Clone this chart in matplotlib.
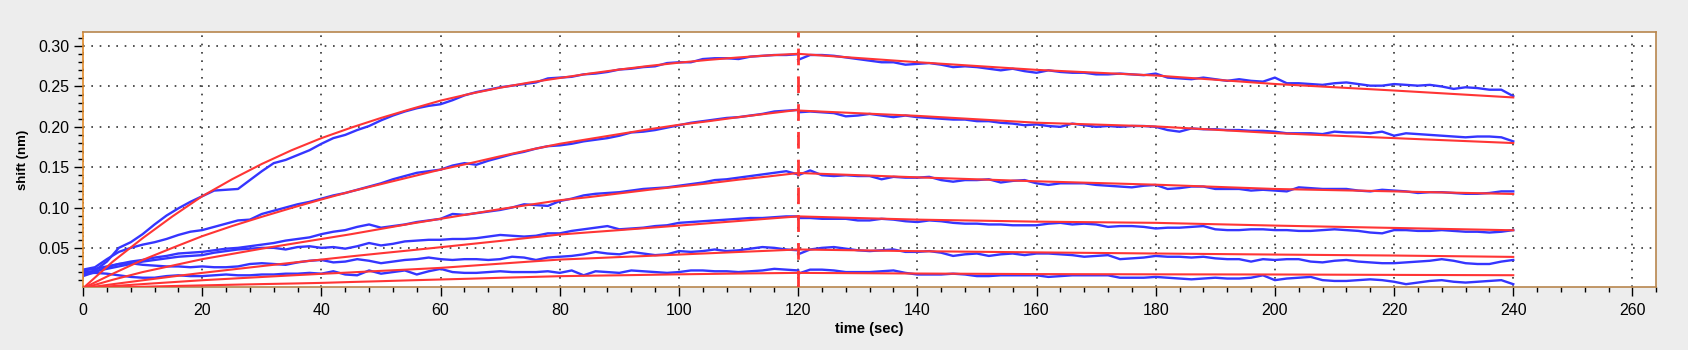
import numpy as np
import matplotlib.pyplot as plt
from matplotlib.ticker import MultipleLocator

plt.rcParams['font.family'] = ['Liberation Sans', 'DejaVu Sans']

# sampling grids (sec)
t_fit_assoc = np.arange(0, 121, 5)
t_fit_dissoc = np.arange(120, 241, 20)
t_raw_assoc = np.arange(0, 121, 2)
t_raw_dissoc = np.arange(120, 241, 2)

# fitted curves (red), association phase
fit_assoc = [
    [0, 0.033, 0.062, 0.089, 0.114, 0.135, 0.154, 0.171, 0.186, 0.199, 0.211, 0.222, 0.2325,
     0.241, 0.2485, 0.255, 0.2605, 0.266, 0.271, 0.2755, 0.2795, 0.283, 0.286, 0.2885, 0.2905],
    [0, 0.018, 0.035, 0.050, 0.0645, 0.077, 0.0885, 0.0995, 0.110, 0.120, 0.129, 0.138, 0.147,
     0.155, 0.1635, 0.1715, 0.179, 0.185, 0.191, 0.197, 0.2025, 0.207, 0.212, 0.2165, 0.221],
    [0, 0.0105, 0.020, 0.028, 0.036, 0.0425, 0.049, 0.055, 0.061, 0.067, 0.0735, 0.080, 0.086,
     0.092, 0.098, 0.1035, 0.109, 0.113, 0.1175, 0.122, 0.126, 0.130, 0.1345, 0.1385, 0.1428],
    [0, 0.005, 0.0098, 0.0145, 0.019, 0.0232, 0.0274, 0.0315, 0.0355, 0.0395, 0.0433, 0.047, 0.0508,
     0.0547, 0.0586, 0.0626, 0.0665, 0.0693, 0.072, 0.0748, 0.0776, 0.0805, 0.0833, 0.0862, 0.089],
    [0, 0.0026, 0.0051, 0.0075, 0.0099, 0.0119, 0.0139, 0.0159, 0.0178, 0.0196, 0.0215, 0.0233, 0.0252,
     0.0278, 0.0304, 0.033, 0.0355, 0.037, 0.0386, 0.0401, 0.0417, 0.0433, 0.0449, 0.0464, 0.048],
    [0, 0.0009, 0.0018, 0.0027, 0.0035, 0.0043, 0.0051, 0.0058, 0.0066, 0.0077, 0.0087, 0.0098, 0.0108,
     0.0118, 0.0129, 0.0139, 0.0149, 0.0155, 0.016, 0.0166, 0.0172, 0.0177, 0.0182, 0.0186, 0.019],
]

# fitted curves (red), dissociation phase
fit_dissoc = [
    [0.2905, 0.2801, 0.2706, 0.2636, 0.2531, 0.245, 0.2364],
    [0.2202, 0.2136, 0.2051, 0.2005, 0.1922, 0.186, 0.1799],
    [0.1428, 0.1374, 0.1325, 0.1283, 0.123, 0.120, 0.1168],
    [0.089, 0.085, 0.0825, 0.081, 0.0776, 0.0747, 0.0718],
    [0.048, 0.0459, 0.0444, 0.043, 0.0417, 0.0405, 0.0388],
    [0.019, 0.0182, 0.0175, 0.0172, 0.017, 0.0165, 0.0161],
]

# measured traces (blue), association phase
raw_assoc = [
    [0.017, 0.022, 0.033, 0.050, 0.057, 0.067, 0.079, 0.090, 0.099, 0.107,
     0.114, 0.121, 0.122, 0.123, 0.134, 0.145, 0.155, 0.159, 0.165, 0.171,
     0.179, 0.186, 0.190, 0.196, 0.201, 0.208, 0.214, 0.219, 0.223, 0.226,
     0.228, 0.233, 0.239, 0.243, 0.246, 0.249, 0.251, 0.253, 0.255, 0.260,
     0.261, 0.262, 0.265, 0.266, 0.268, 0.271, 0.272, 0.274, 0.275, 0.279,
     0.280, 0.280, 0.284, 0.285, 0.285, 0.284, 0.287, 0.288, 0.289, 0.289,
     0.290],
    [0.023, 0.026, 0.036, 0.045, 0.050, 0.054, 0.057, 0.061, 0.066, 0.070,
     0.072, 0.076, 0.080, 0.084, 0.085, 0.092, 0.096, 0.100, 0.104, 0.107,
     0.111, 0.115, 0.118, 0.122, 0.126, 0.130, 0.135, 0.139, 0.143, 0.145,
     0.147, 0.152, 0.155, 0.153, 0.158, 0.162, 0.166, 0.169, 0.173, 0.176,
     0.177, 0.179, 0.182, 0.184, 0.186, 0.189, 0.193, 0.194, 0.196, 0.199,
     0.202, 0.205, 0.207, 0.209, 0.211, 0.212, 0.214, 0.216, 0.219, 0.220,
     0.221],
    [0.015, 0.020, 0.026, 0.030, 0.033, 0.035, 0.038, 0.040, 0.043, 0.044,
     0.045, 0.047, 0.049, 0.050, 0.052, 0.054, 0.056, 0.059, 0.061, 0.063,
     0.067, 0.070, 0.072, 0.076, 0.079, 0.075, 0.077, 0.079, 0.082, 0.084,
     0.086, 0.092, 0.091, 0.093, 0.095, 0.097, 0.100, 0.104, 0.103, 0.102,
     0.108, 0.111, 0.115, 0.117, 0.118, 0.119, 0.121, 0.123, 0.124, 0.125,
     0.127, 0.129, 0.131, 0.134, 0.135, 0.137, 0.139, 0.141, 0.143, 0.145,
     0.141],
    [0.020, 0.021, 0.024, 0.027, 0.030, 0.033, 0.035, 0.037, 0.039, 0.040,
     0.041, 0.044, 0.046, 0.048, 0.049, 0.050, 0.050, 0.048, 0.051, 0.052,
     0.050, 0.051, 0.049, 0.052, 0.056, 0.053, 0.055, 0.058, 0.059, 0.060,
     0.060, 0.061, 0.061, 0.062, 0.064, 0.066, 0.065, 0.064, 0.065, 0.068,
     0.068, 0.071, 0.073, 0.075, 0.077, 0.073, 0.074, 0.075, 0.077, 0.078,
     0.081, 0.082, 0.083, 0.084, 0.085, 0.086, 0.087, 0.087, 0.088, 0.089,
     0.089],
    [0.022, 0.024, 0.027, 0.030, 0.031, 0.029, 0.028, 0.027, 0.027, 0.026,
     0.027, 0.026, 0.026, 0.027, 0.030, 0.031, 0.030, 0.029, 0.032, 0.034,
     0.035, 0.032, 0.033, 0.036, 0.034, 0.031, 0.033, 0.035, 0.036, 0.038,
     0.036, 0.035, 0.036, 0.036, 0.035, 0.036, 0.039, 0.038, 0.035, 0.038,
     0.039, 0.040, 0.042, 0.045, 0.043, 0.042, 0.045, 0.043, 0.041, 0.042,
     0.046, 0.045, 0.046, 0.048, 0.046, 0.047, 0.049, 0.051, 0.050, 0.048,
     0.047],
    [0.018, 0.019, 0.018, 0.016, 0.014, 0.013, 0.013, 0.015, 0.016, 0.015,
     0.015, 0.016, 0.017, 0.016, 0.016, 0.017, 0.017, 0.018, 0.018, 0.019,
     0.018, 0.021, 0.017, 0.016, 0.022, 0.018, 0.020, 0.022, 0.017, 0.021,
     0.024, 0.020, 0.019, 0.019, 0.020, 0.021, 0.020, 0.020, 0.020, 0.021,
     0.019, 0.022, 0.016, 0.021, 0.020, 0.019, 0.022, 0.021, 0.020, 0.019,
     0.020, 0.022, 0.022, 0.021, 0.021, 0.020, 0.021, 0.022, 0.024, 0.023,
     0.022],
]

# measured traces (blue), dissociation phase
raw_dissoc = [
    [0.283, 0.289, 0.289, 0.288, 0.286, 0.284, 0.282, 0.280, 0.280, 0.277,
     0.278, 0.279, 0.277, 0.274, 0.275, 0.274, 0.272, 0.270, 0.272, 0.269,
     0.267, 0.270, 0.268, 0.267, 0.267, 0.265, 0.265, 0.266, 0.265, 0.264,
     0.266, 0.261, 0.260, 0.259, 0.261, 0.259, 0.257, 0.259, 0.257, 0.256,
     0.261, 0.254, 0.254, 0.253, 0.252, 0.254, 0.255, 0.253, 0.251, 0.251,
     0.253, 0.252, 0.251, 0.252, 0.250, 0.247, 0.249, 0.248, 0.246, 0.246,
     0.238],
    [0.218, 0.219, 0.218, 0.217, 0.213, 0.214, 0.216, 0.214, 0.212, 0.214,
     0.212, 0.211, 0.210, 0.209, 0.209, 0.207, 0.207, 0.205, 0.204, 0.202,
     0.203, 0.201, 0.200, 0.204, 0.202, 0.200, 0.201, 0.200, 0.201, 0.201,
     0.200, 0.196, 0.194, 0.198, 0.197, 0.197, 0.196, 0.196, 0.195, 0.195,
     0.194, 0.192, 0.192, 0.192, 0.191, 0.194, 0.193, 0.193, 0.192, 0.194,
     0.189, 0.192, 0.191, 0.190, 0.189, 0.188, 0.187, 0.188, 0.188, 0.187,
     0.182],
    [0.140, 0.146, 0.140, 0.139, 0.140, 0.139, 0.139, 0.135, 0.138, 0.137,
     0.137, 0.138, 0.134, 0.132, 0.134, 0.134, 0.135, 0.131, 0.133, 0.134,
     0.130, 0.128, 0.130, 0.130, 0.130, 0.128, 0.127, 0.126, 0.125, 0.127,
     0.128, 0.123, 0.124, 0.126, 0.126, 0.123, 0.123, 0.123, 0.121, 0.122,
     0.121, 0.120, 0.125, 0.124, 0.123, 0.123, 0.123, 0.121, 0.120, 0.122,
     0.121, 0.120, 0.118, 0.119, 0.119, 0.118, 0.117, 0.117, 0.118, 0.120,
     0.120],
    [0.087, 0.087, 0.086, 0.086, 0.086, 0.084, 0.084, 0.086, 0.085, 0.083,
     0.082, 0.084, 0.083, 0.081, 0.080, 0.080, 0.079, 0.079, 0.078, 0.078,
     0.078, 0.080, 0.081, 0.079, 0.080, 0.079, 0.076, 0.077, 0.077, 0.076,
     0.074, 0.075, 0.075, 0.076, 0.077, 0.073, 0.072, 0.072, 0.073, 0.073,
     0.072, 0.072, 0.071, 0.071, 0.072, 0.073, 0.072, 0.071, 0.069, 0.068,
     0.072, 0.072, 0.071, 0.071, 0.072, 0.071, 0.070, 0.070, 0.069, 0.070,
     0.072],
    [0.042, 0.048, 0.050, 0.051, 0.049, 0.047, 0.046, 0.047, 0.048, 0.045,
     0.045, 0.046, 0.044, 0.040, 0.042, 0.043, 0.040, 0.042, 0.043, 0.041,
     0.043, 0.043, 0.042, 0.041, 0.039, 0.040, 0.041, 0.036, 0.037, 0.038,
     0.040, 0.039, 0.039, 0.038, 0.039, 0.037, 0.036, 0.036, 0.033, 0.036,
     0.035, 0.036, 0.036, 0.033, 0.032, 0.034, 0.035, 0.033, 0.032, 0.031,
     0.031, 0.032, 0.033, 0.034, 0.036, 0.034, 0.031, 0.030, 0.030, 0.033,
     0.035],
    [0.018, 0.023, 0.023, 0.022, 0.020, 0.020, 0.020, 0.021, 0.022, 0.019,
     0.017, 0.017, 0.017, 0.018, 0.017, 0.015, 0.015, 0.016, 0.016, 0.016,
     0.016, 0.014, 0.015, 0.016, 0.016, 0.016, 0.016, 0.013, 0.013, 0.013,
     0.014, 0.013, 0.012, 0.011, 0.012, 0.013, 0.012, 0.012, 0.013, 0.016,
     0.010, 0.012, 0.013, 0.014, 0.010, 0.009, 0.009, 0.010, 0.011, 0.010,
     0.008, 0.005, 0.007, 0.009, 0.010, 0.008, 0.007, 0.008, 0.009, 0.010,
     0.005],
]

switch_time = 120

fig = plt.figure(figsize=(16.88, 3.5), dpi=100)
fig.patch.set_facecolor('#ededed')
ax = fig.add_axes([0.0492, 0.18, 0.932, 0.729])
ax.set_facecolor('white')

blue = '#3535ff'
red = '#ff3535'
for a, d in zip(raw_assoc, raw_dissoc):
    ax.plot(t_raw_assoc, a, color=blue, lw=1.7, zorder=2)
    ax.plot(t_raw_dissoc, d, color=blue, lw=1.7, zorder=2)
for a, d in zip(fit_assoc, fit_dissoc):
    ax.plot(t_fit_assoc, a, color=red, lw=1.5, zorder=3)
    ax.plot(t_fit_dissoc, d, color=red, lw=1.5, zorder=3)

ax.axvline(switch_time, color=red, lw=2, ls=(0, (6, 4)), zorder=4)

ax.set_xlim(0, 264)
ax.set_ylim(0.0015, 0.3177)
ax.xaxis.set_major_locator(MultipleLocator(20))
ax.xaxis.set_minor_locator(MultipleLocator(4))
ax.yaxis.set_minor_locator(MultipleLocator(0.01))
ax.set_yticks([0.05, 0.10, 0.15, 0.20, 0.25, 0.30])
ax.set_yticklabels(['0.05', '0.10', '0.15', '0.20', '0.25', '0.30'])
ax.tick_params(which='major', length=6.5, width=1, labelsize=11.5, pad=5)
ax.tick_params(which='minor', length=3.5, width=1)
ax.tick_params(axis='y', pad=3)

ax.grid(True, which='major', color='#333333', ls=(0, (1, 4)), lw=1.2)

for s in ax.spines.values():
    s.set_color('#b8864e')
    s.set_linewidth(1.2)
ax.spines['left'].set_color('#e08a2a')

ax.set_xlabel('time (sec)', fontsize=10.5, fontweight='bold', labelpad=3)
ax.set_ylabel('shift (nm)', fontsize=9.5, fontweight='bold', labelpad=7)

fig.savefig('out.png', dpi=100, facecolor=fig.get_facecolor())
